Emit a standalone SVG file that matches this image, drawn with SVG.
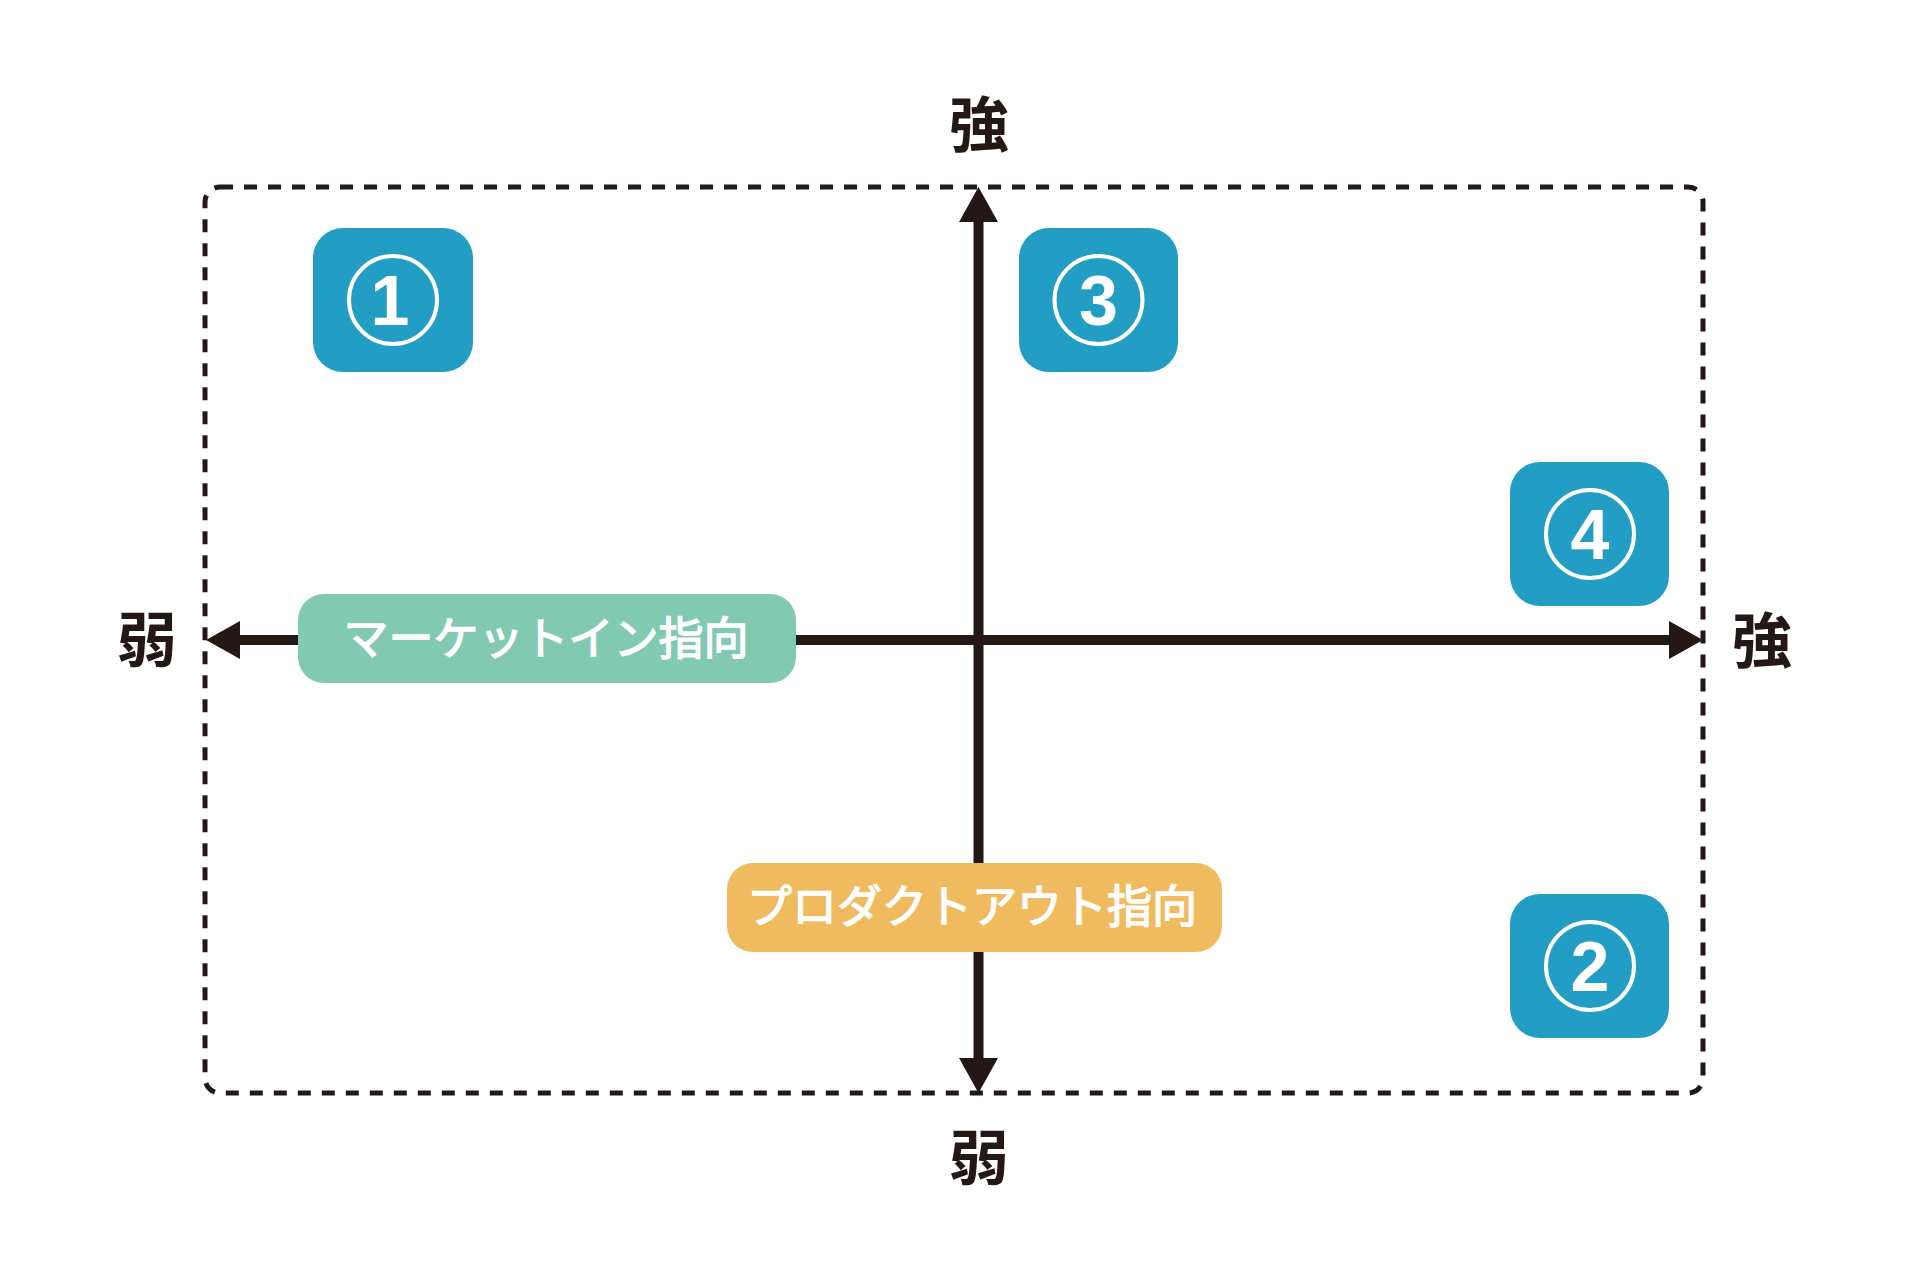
<svg xmlns="http://www.w3.org/2000/svg" width="1920" height="1282" viewBox="0 0 1920 1282">
<style>
.frame{fill:none;stroke:#231815;stroke-width:5;stroke-dasharray:13 11}
.axis{stroke:#231815;stroke-width:10;fill:none}
.head{fill:#231815}
.box{fill:#229dc4}
.ring{fill:none;stroke:#fff;stroke-width:4}
.num{font-family:"Liberation Sans","Noto Sans",sans-serif;font-weight:bold;font-size:70px;fill:#fff;text-anchor:middle}
.pole{font-family:"Noto Sans CJK JP",sans-serif;font-weight:bold;font-size:60px;fill:#231815;text-anchor:middle}
.lab{font-family:"Noto Sans CJK JP",sans-serif;font-weight:normal;font-size:45px;fill:#fff;stroke:#fff;stroke-width:1.4;text-anchor:middle}
</style>
<rect width="1920" height="1282" fill="#fff"/>
<rect class="frame" x="205" y="187" width="1498" height="906" rx="15"/>
<g id="connectors">
<line class="axis" x1="978.5" y1="218" x2="978.5" y2="1062"/>
<polygon class="head" points="978.5,187 959,222 998,222"/>
<polygon class="head" points="978.5,1093 959,1058 998,1058"/>
<line class="axis" x1="236" y1="640" x2="1671" y2="640"/>
<polygon class="head" points="206,640 240,621 240,659"/>
<polygon class="head" points="1703,640 1669,621 1669,659"/>
</g>
<g id="pole-top"><text class="pole" x="979" y="147">強</text></g>
<g id="pole-bottom"><text class="pole" x="979" y="1180">弱</text></g>
<g id="pole-left"><text class="pole" x="147" y="662">弱</text></g>
<g id="pole-right"><text class="pole" x="1762" y="663">強</text></g>
<g id="n1">
<rect class="box" x="313" y="228" width="160" height="144" rx="30"/>
<circle class="ring" cx="393" cy="300" r="44"/>
<text class="num" x="390" y="325">1</text>
</g>
<g id="n3">
<rect class="box" x="1019" y="228" width="159" height="144" rx="30"/>
<circle class="ring" cx="1098.5" cy="300" r="44"/>
<text class="num" x="1098.5" y="325">3</text>
</g>
<g id="n4">
<rect class="box" x="1510" y="462" width="159" height="144" rx="30"/>
<circle class="ring" cx="1590" cy="534" r="44"/>
<text class="num" x="1590" y="559">4</text>
</g>
<g id="n2">
<rect class="box" x="1510" y="894" width="159" height="144" rx="30"/>
<circle class="ring" cx="1590" cy="966" r="44"/>
<text class="num" x="1590" y="991">2</text>
</g>
<g id="market-in">
<rect x="298" y="594" width="498" height="89" rx="26" fill="#82c9b1"/>
<text class="lab" x="546" y="655">マーケットイン指向</text>
</g>
<g id="product-out">
<rect x="727" y="863" width="495" height="89" rx="26" fill="#f0bb5e"/>
<text class="lab" x="972" y="923">プロダクトアウト指向</text>
</g>
</svg>
